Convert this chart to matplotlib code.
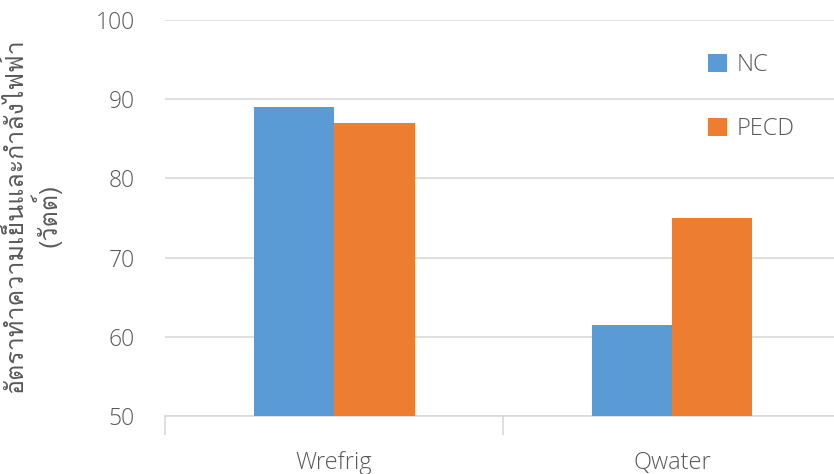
import matplotlib
matplotlib.use('Agg')
import matplotlib.pyplot as plt
from matplotlib import font_manager
from matplotlib.ft2font import FT2Font

categories = ['Wrefrig', 'Qwater']
nc = [89.0, 61.5]
pecd = [87.0, 75.0]
series_names = ['NC', 'PECD']
ylabel = 'อัตราทำความเย็นและกำลังไฟฟ้า\n(วัตต์)'

# หาฟอนต์ที่มีอักษรไทย
thai_font = None
for f in font_manager.fontManager.ttflist:
    try:
        if 0x0E2D in FT2Font(f.fname).get_charmap():
            thai_font = f.name
            break
    except Exception:
        pass

base = 'Open Sans'
plt.rcParams['font.family'] = [base, 'DejaVu Sans']
plt.rcParams['font.weight'] = 'light'
grey = '#595959'

fig = plt.figure(figsize=(8.34, 4.74), dpi=100)
ax = fig.add_axes([0.198, 0.1224, 0.8104, 0.8356])

x = [0, 1]
w = 0.238
ax.bar([i - w / 2 for i in x], nc, w, color='#5b9bd5', label=series_names[0], zorder=3)
ax.bar([i + w / 2 for i in x], pecd, w, color='#ed7d31', label=series_names[1], zorder=3)

ax.set_xlim(-0.5, 1.5)
ax.set_ylim(50, 100)
ax.set_yticks(range(50, 101, 10))
ax.yaxis.grid(True, color='#d9d9d9', lw=1.2, zorder=0)
ax.tick_params(axis='y', length=0, labelsize=16.5, labelcolor=grey, pad=22)

ax.set_xticks(x)
ax.set_xticklabels(categories)
ax.set_xticks([-0.5, 0.5, 1.5], minor=True)
ax.tick_params(axis='x', which='major', length=0, labelsize=17, labelcolor=grey, pad=25)
ax.tick_params(axis='x', which='minor', length=14, color='#d9d9d9', width=1.2)

for s in ['left', 'right', 'top']:
    ax.spines[s].set_visible(False)
ax.spines['bottom'].set_color('#d9d9d9')
ax.spines['bottom'].set_linewidth(1.2)

fam = [thai_font, 'DejaVu Sans'] if thai_font else ['DejaVu Sans']
fig.text(0.037, 0.546, ylabel, rotation=90, ha='center', va='center',
         fontsize=18, color=grey, family=fam, multialignment='center',
         linespacing=1.1)

leg = ax.legend(loc='upper left', bbox_to_anchor=(0.803, 0.917), frameon=False,
                borderpad=0, borderaxespad=0,
                handlelength=0.8, handleheight=0.8, labelspacing=1.72,
                handletextpad=0.4, fontsize=17)
for t in leg.get_texts():
    t.set_color(grey)

fig.savefig('out.png', dpi=100)
